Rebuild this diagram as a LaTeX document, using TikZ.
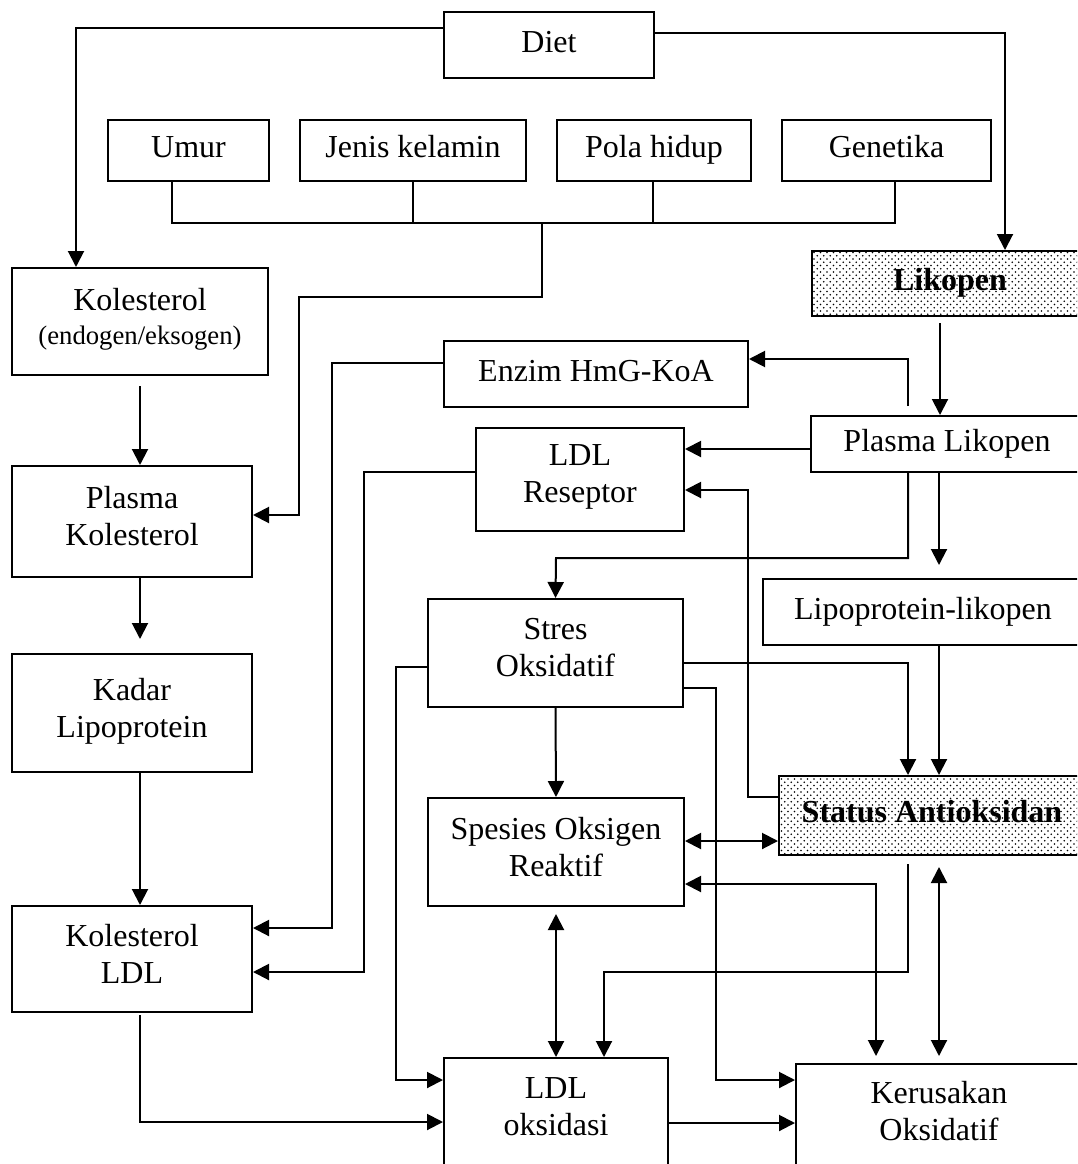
\documentclass[tikz,border=0pt]{standalone}
\usepackage{fontspec}
\setmainfont{Liberation Serif}
\usetikzlibrary{arrows.meta,patterns}

\pgfdeclarepatternformonly{finedots}{\pgfpoint{-1pt}{-1pt}}{\pgfpoint{7pt}{7pt}}{\pgfpoint{6.5pt}{6.5pt}}{%
	\pgfpathcircle{\pgfpoint{1.5pt}{1.5pt}}{0.95pt}%
	\pgfpathcircle{\pgfpoint{4.75pt}{4.75pt}}{0.95pt}%
	\pgfusepath{fill}%
}

\begin{document}
\begin{tikzpicture}[x=1pt,y=-1pt,
	font=\fontsize{32}{37}\selectfont,
	kotak/.style={draw,line width=2pt,align=center,inner sep=0pt,
		execute at begin node=\strut,execute at end node=\strut},
	arsir/.style={kotak,pattern=finedots,font=\fontsize{32}{37}\selectfont\bfseries},
	garis/.style={line width=2pt},
	panah/.style={garis,-{Triangle[length=16pt,width=16pt]}},
	duapanah/.style={garis,{Triangle[length=16pt,width=16pt]}-{Triangle[length=16pt,width=16pt]}}]
	\useasboundingbox (0,0) rectangle (1077,1164);
	\clip (0,0) rectangle (1077,1164);
	
	% 方框
	\node[kotak,minimum width=210pt,minimum height=66pt] (diet) at (549,45) {Diet};
	\node[kotak,minimum width=161pt,minimum height=61pt] (umur) at (188.5,150.5) {Umur};
	\node[kotak,minimum width=226pt,minimum height=61pt] (jenis) at (413,150.5) {Jenis kelamin};
	\node[kotak,minimum width=194pt,minimum height=61pt] (pola) at (654,150.5) {Pola hidup};
	\node[kotak,minimum width=209pt,minimum height=61pt] (genetika) at (886.5,150.5) {Genetika};
	
	\node[kotak,minimum width=256pt,minimum height=107pt] (kol) at (140,321.5) {Kolesterol\\[-3pt]{\fontsize{26.7}{30}\selectfont (endogen/eksogen)}};
	\node[kotak,minimum width=240pt,minimum height=111pt] (pkol) at (132,521.5) {Plasma\\Kolesterol};
	\node[kotak,minimum width=240pt,minimum height=118pt] (kadar) at (132,713) {Kadar\\Lipoprotein};
	\node[kotak,minimum width=240pt,minimum height=106pt] (kolldl) at (132,959) {Kolesterol\\LDL};
	
	\node[kotak,minimum width=304pt,minimum height=66pt] (enzim) at (596,374) {Enzim HmG-KoA};
	\node[kotak,minimum width=208pt,minimum height=103pt] (ldlr) at (580,479.5) {LDL\\Reseptor};
	\node[kotak,minimum width=255pt,minimum height=108pt] (stres) at (555.5,653) {Stres\\Oksidatif};
	\node[kotak,minimum width=256pt,minimum height=108pt] (ros) at (556,852) {Spesies Oksigen\\Reaktif};
	\node[kotak,minimum width=224pt,minimum height=108pt] (ldlox) at (556,1112) {LDL\\oksidasi};
	
	\node[arsir,minimum width=276pt,minimum height=65pt] (likopen) at (950,283.5) {Likopen};
	\node[kotak,minimum width=272pt,minimum height=56pt] (plik) at (947,444) {Plasma Likopen};
	\node[kotak,minimum width=320pt,minimum height=66pt] (lipo) at (923,612) {Lipoprotein-likopen};
	\node[arsir,minimum width=306pt,minimum height=79pt] (status) at (932,815.5) {Status Antioksidan};
	\node[kotak,minimum width=286pt,minimum height=104pt] (rusak) at (939,1116) {Kerusakan\\Oksidatif};
	
	% 从Diet出发
	\draw[panah] (diet.west |- 0,28) -| (kol.north -| 76,0);
	\draw[panah] (diet.east |- 0,33) -| (likopen.north -| 1005,0);
	
	% 四个因素合并
	\draw[garis] (umur.south -| 172,0) -- (172,223) -- (895,223) -- (genetika.south -| 895,0);
	\draw[garis] (jenis.south) -- (jenis.south |- 0,223);
	\draw[garis] (pola.south -| 653,0) -- (653,223);
	\coordinate (gabung) at (542,223);
	\draw[panah] (gabung) -- (542,297) -- (299,297) |- (pkol.east |- 0,515);
	
	% 左列
	\draw[panah,shorten <=10pt] (kol.south -| 140,0) -- (pkol.north -| 140,0);
	\draw[panah,shorten >=14pt] (pkol.south -| 140,0) -- (kadar.north -| 140,0);
	\draw[panah] (kadar.south -| 140,0) -- (kolldl.north -| 140,0);
	\draw[panah,shorten <=2pt] (kolldl.south -| 140,0) |- (ldlox.west |- 0,1122);
	\draw[panah] (enzim.west |- 0,363) -| (332,928) -- (kolldl.east |- 0,928);
	\draw[panah] (ldlr.west |- 0,472) -| (364,972) -- (kolldl.east |- 0,972);
	
	% 血浆番茄红素
	\draw[panah,shorten <=6pt] (likopen.south -| 940,0) -- (plik.north -| 940,0);
	\draw[panah,shorten <=9pt] (plik.north -| 908,0) |- (enzim.east |- 0,359);
	\draw[panah] (plik.west |- 0,449) -- (ldlr.east |- 0,449);
	\draw[panah] (plik.south -| 908,0) |- (556,558) -- (stres.north);
	\draw[panah,shorten >=13pt] (plik.south -| 939,0) -- (lipo.north -| 939,0);
	\draw[panah] (lipo.south -| 939,0) -- (status.north -| 939,0);
	\draw[panah] (status.west |- 0,797) -| (748,490) -- (ldlr.east |- 0,490);
	
	% 氧化应激
	\draw[panah] (stres.east |- 0,663) -| (status.north -| 908,0);
	\draw[panah] (stres.south) -- (ros.north);
	\draw[panah] (stres.west |- 0,667) -| (396,1080) -- (ldlox.west |- 0,1080);
	\draw[panah] (stres.east |- 0,688) -| (716,1080) -- (rusak.west |- 0,1080);
	
	% 双向箭头
	\draw[duapanah] (ros.east |- 0,841) -- (status.west |- 0,841);
	\draw[duapanah,shorten <=7pt] (ros.south) -- (ldlox.north);
	\draw[duapanah,shorten <=7pt] (rusak.north -| 876,0) |- (ros.east |- 0,884);
	\draw[duapanah,shorten <=11pt,shorten >=7pt] (status.south -| 939,0) -- (rusak.north -| 939,0);
	
	% 底部
	\draw[panah,shorten <=8pt] (status.south -| 908,0) |- (604,972) -- (ldlox.north -| 604,0);
	\draw[panah] (ldlox.east |- 0,1123) -- (rusak.west |- 0,1123);
	
\end{tikzpicture}
\end{document}
